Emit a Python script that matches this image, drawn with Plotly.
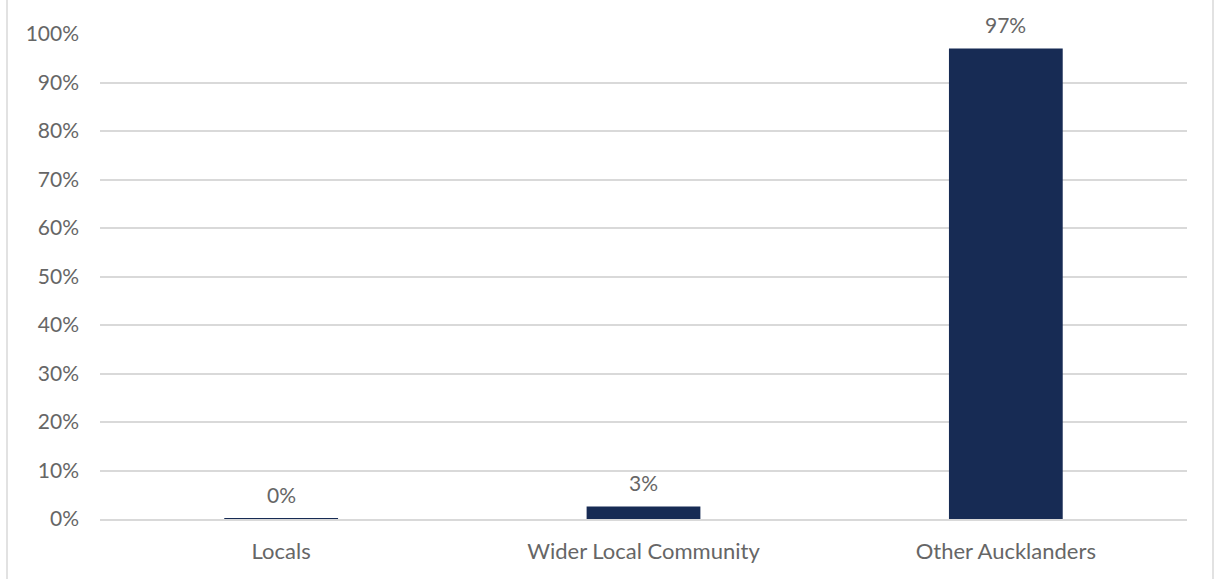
import plotly.graph_objects as go

# Share of respondents by group (percent)
groups = ["Locals", "Wider Local Community", "Other Aucklanders"]
shares = [0.2, 2.6, 97.0]
y_ticks = [0, 10, 20, 30, 40, 50, 60, 70, 80, 90, 100]

W, H = 1215, 579
ML, MR, MT, MB = 100, 28, 34, 60
FONT = "Lato"
GREY_TEXT = "#666666"
GRID = "#d9d9d9"
BAR = "#172b54"

fig = go.Figure()
fig.add_trace(go.Bar(
    x=groups,
    y=shares,
    marker=dict(color=BAR, line=dict(width=0)),
    hoverinfo="skip",
))

# value labels above each bar
for g, v in zip(groups, shares):
    fig.add_annotation(
        x=g, y=v, text=f"{v:.0f}%", showarrow=False,
        yanchor="middle", yshift=24,
        font=dict(family=FONT, size=21, color=GREY_TEXT),
    )

# outer chart border
pw, ph = W - ML - MR, H - MT - MB
fig.add_shape(
    type="rect", xref="paper", yref="paper",
    x0=(7 - ML) / pw, x1=(1213 - ML) / pw,
    y0=-(H + 20 - MT - ph) / ph, y1=(H - MT - 5) / ph,
    line=dict(color=GRID, width=1.5), fillcolor="rgba(0,0,0,0)",
    layer="below",
)

fig.update_layout(
    width=W, height=H,
    margin=dict(l=ML, r=MR, t=MT, b=MB),
    paper_bgcolor="white", plot_bgcolor="white",
    bargap=0.686,
    showlegend=False,
    font=dict(family=FONT, size=21, color=GREY_TEXT),
    xaxis=dict(
        showgrid=False, showline=True, linecolor=GRID, linewidth=1.5,
        ticks="", ticklabelstandoff=12,
        tickfont=dict(family=FONT, size=22, color=GREY_TEXT),
        fixedrange=True,
    ),
    yaxis=dict(
        range=[0, 100], tickvals=y_ticks,
        ticktext=[f"{t}%" for t in y_ticks],
        showgrid=True, gridcolor=GRID, gridwidth=1.5,
        zeroline=False, showline=False, ticks="",
        ticklabelstandoff=20,
        tickfont=dict(family=FONT, size=21, color=GREY_TEXT),
        fixedrange=True,
    ),
)

fig.write_html("out.html")
